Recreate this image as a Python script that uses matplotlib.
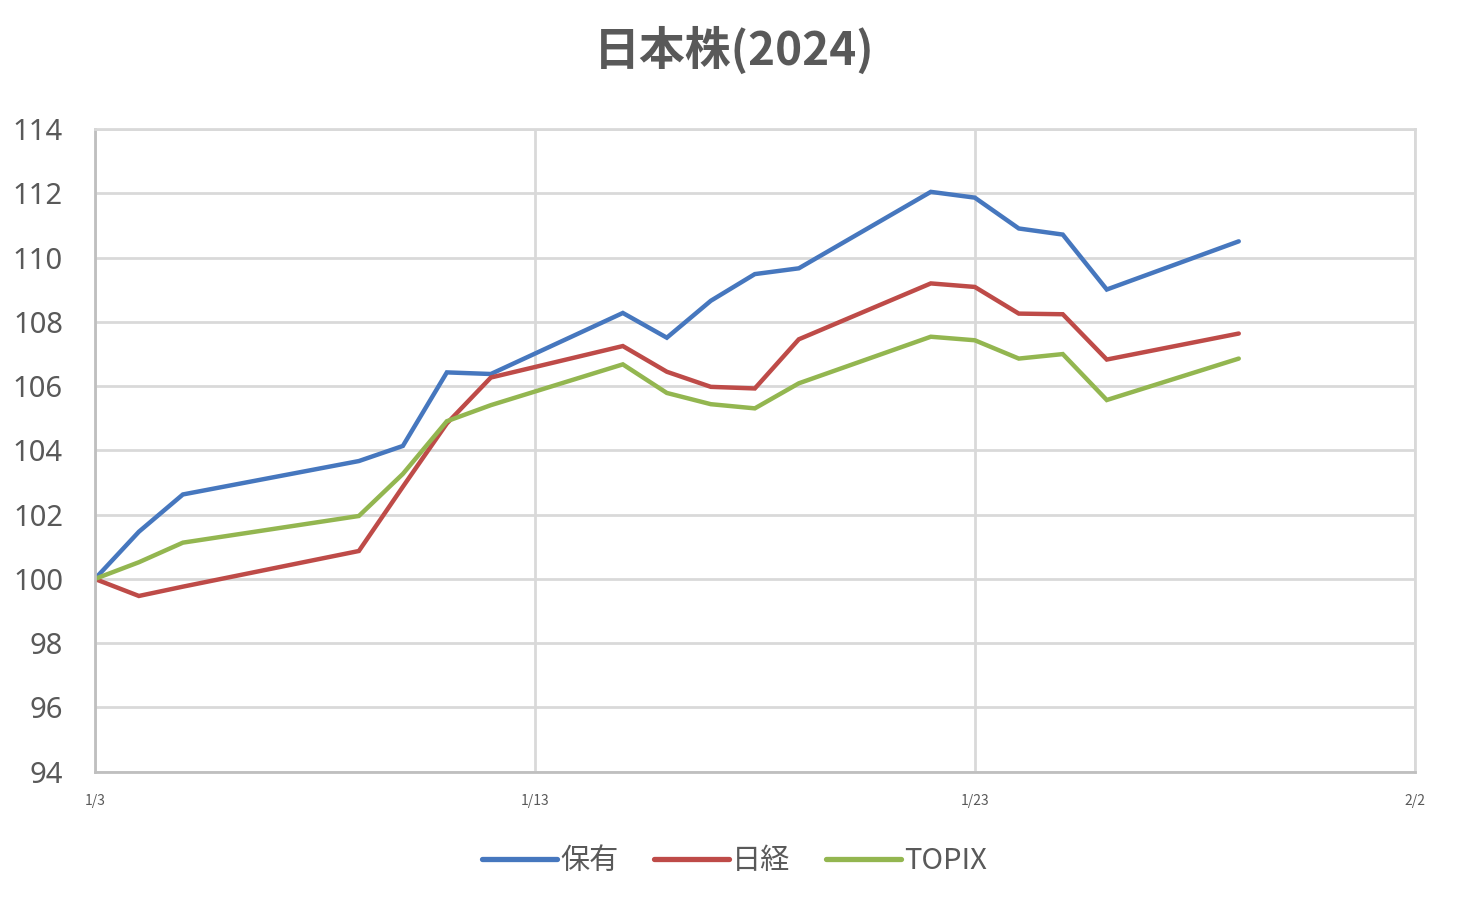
import pandas as pd
import matplotlib
matplotlib.use("Agg")
import matplotlib.pyplot as plt

plt.rcParams['font.family'] = ['Noto Sans CJK JP', 'DejaVu Sans']

# data (start = 100)
dates = ["2024-01-03", "2024-01-04", "2024-01-05", "2024-01-09", "2024-01-10",
         "2024-01-11", "2024-01-12", "2024-01-15", "2024-01-16", "2024-01-17",
         "2024-01-18", "2024-01-19", "2024-01-22", "2024-01-23", "2024-01-24",
         "2024-01-25", "2024-01-26", "2024-01-29"]
hoyu = [100, 101.47, 102.63, 103.67, 104.14, 106.43, 106.38, 108.28, 107.51, 108.66,
        109.49, 109.67, 112.05, 111.87, 110.91, 110.72, 109.01, 110.51]
nikkei = [100, 99.47, 99.76, 100.87, 102.87, 104.84, 106.27, 107.25, 106.45, 105.98,
          105.93, 107.46, 109.20, 109.09, 108.26, 108.24, 106.83, 107.64]
topix = [100, 100.52, 101.13, 101.96, 103.27, 104.91, 105.41, 106.68, 105.79, 105.44,
         105.31, 106.09, 107.54, 107.43, 106.86, 107.00, 105.57, 106.86]
labels = ["保有", "日経", "TOPIX"]
colors = ["#4677be", "#be4b48", "#93b650"]

x = pd.to_datetime(dates)
text_color = "#595959"

fig = plt.figure(figsize=(14.6, 9.1), dpi=100)
ax = fig.add_axes([0.065, 0.152, 0.904, 0.706])

for vals, lab, c in zip([hoyu, nikkei, topix], labels, colors):
    ax.plot(x, vals, color=c, lw=3.2, label=lab, solid_capstyle="round",
            solid_joinstyle="miter")

ax.set_ylim(94, 114)
ax.set_yticks(range(94, 115, 2))
ax.set_xlim(pd.Timestamp("2024-01-03"), pd.Timestamp("2024-02-02"))
ticks = pd.to_datetime(["2024-01-03", "2024-01-13", "2024-01-23", "2024-02-02"])
ax.set_xticks(ticks)
ax.set_xticklabels([f"{d.month}/{d.day}" for d in ticks])

ax.grid(True, color="#d9d9d9", lw=2)
ax.set_axisbelow(True)
for side in ["top", "right"]:
    ax.spines[side].set_color("#d9d9d9")
    ax.spines[side].set_linewidth(2)
for side in ["left", "bottom"]:
    ax.spines[side].set_color("#bfbfbf")
    ax.spines[side].set_linewidth(2)

ax.tick_params(axis="y", length=0, pad=23, labelsize=21, labelcolor=text_color)
ax.tick_params(axis="x", length=0, pad=16, labelsize=10, labelcolor=text_color)
for t in ax.get_yticklabels():
    t.set_family(['Noto Sans', 'DejaVu Sans'])

fig.text(0.503, 0.944, "日本株(2024)", ha="center", va="center", fontsize=33,
         color=text_color, fontweight="bold")

leg = fig.legend(loc="center", bbox_to_anchor=(0.503, 0.054), ncol=3, frameon=False,
                 fontsize=21, handlelength=2.6, handletextpad=0.1, columnspacing=1.2,
                 labelcolor=text_color)
for ln in leg.get_lines():
    ln.set_linewidth(3.8)

fig.savefig("out.png", dpi=100)
